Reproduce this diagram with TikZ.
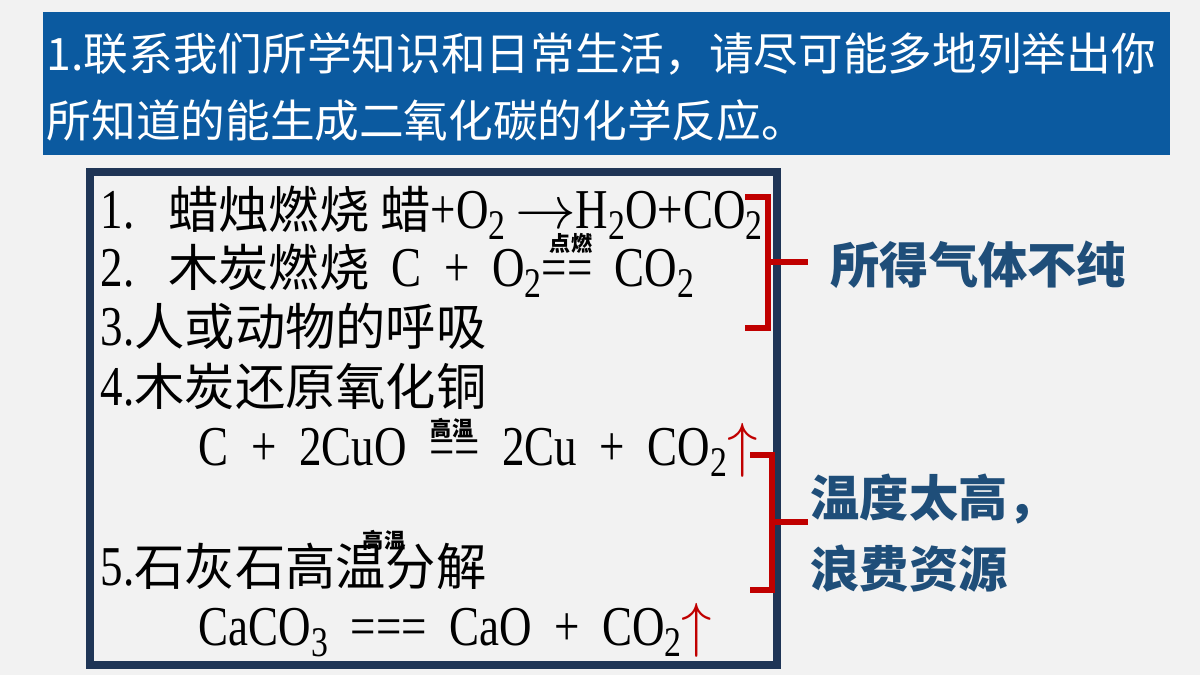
\documentclass[tikz,border=0pt]{standalone}
\usepackage{fontspec}
\setmainfont[FakeStretch=0.8]{Liberation Serif}
\newfontfamily\cjkf{Noto Sans CJK SC}
\newcommand\cjk{\cjkf\fontsize{14.3}{16}\selectfont}
\definecolor{bandblue}{HTML}{0B5AA0}
\definecolor{boxnavy}{HTML}{1F3556}
\definecolor{labblue}{HTML}{1F4E79}
\definecolor{brred}{HTML}{C00000}
\newcommand\dn[1]{\raisebox{-0.45ex}{\fontsize{12}{12}\selectfont #1}}
\newcommand\upr{{\color{brred}$\uparrow$}}
\tikzset{
  line/.style={anchor=base west,inner sep=0pt,font=\fontsize{16}{16}\selectfont},
  cond/.style={inner sep=0pt,font=\cjkf\bfseries\fontsize{6}{6}\selectfont},
  lab/.style={anchor=west,inner sep=0pt,text=labblue,font=\cjkf\bfseries\fontsize{14}{14}\selectfont},
  brace/.style={brred,line width=1.6pt}
}
\begin{document}
\begin{tikzpicture}[x=0.01cm,y=-0.01cm]
\useasboundingbox (0,0) rectangle (1200,675);
\fill[black!5] (0,0) rectangle (1200,675);
% title band
\fill[bandblue] (43,12) rectangle (1170,155);
\node[anchor=west,inner sep=0pt,text=white,align=left,font=\cjkf\fontsize{12.7}{19}\selectfont] (title) at (46,87)
  {1.联系我们所学知识和日常生活，请尽可能多地列举出你\\所知道的能生成二氧化碳的化学反应。};
% box
\draw[boxnavy,line width=2pt] (90,172) rectangle (777,665);
\node[line] (l1) at (100,228) {1.\ \ \ {\cjk 蜡烛燃烧}\ {\cjk 蜡}+O\dn{2}\,$\rightarrow$H\dn{2}O+CO\dn{2}};
\node[line] (l2) at (100,286) {2.\ \ \ {\cjk 木炭燃烧}\ \ C\ \ +\ \ O\dn{2}==\ \ CO\dn{2}};
\node[cond] (c2) at (571,243) {点燃};
\node[line] (l3) at (100,345) {3.{\cjk 人或动物的呼吸}};
\node[line] (l4) at (100,405) {4.{\cjk 木炭还原氧化铜}};
\node[line] (l4b) at (198,465) {C\ \ +\ \ 2CuO\ \ ==\ \ 2Cu\ \ +\ \ CO\dn{2}\upr};
\node[cond] (c4) at (452,428) {高温};
\node[line] (l5) at (100,585) {5.{\cjk 石灰石高温分解}};
\node[cond] (c5) at (384,540) {高温};
\node[line] (l5b) at (198,645) {CaCO\dn{3}\ \ ===\ \ CaO\ \ +\ \ CO\dn{2}\upr};
% brackets
\draw[brace] (745,197) -- (768,197) -- (768,328) -- (745,328);
\draw[brace] (768,262) -- (808,262);
\draw[brace] (750,455) -- (772,455) -- (772,590) -- (750,590);
\draw[brace] (772,522) -- (808,522);
% labels
\node[lab] (g1) at (830,265) {所得气体不纯};
\node[lab,align=left,font=\cjkf\bfseries\fontsize{14}{20}\selectfont] (g2) at (810,533) {温度太高，\\浪费资源};
\end{tikzpicture}
\end{document}
